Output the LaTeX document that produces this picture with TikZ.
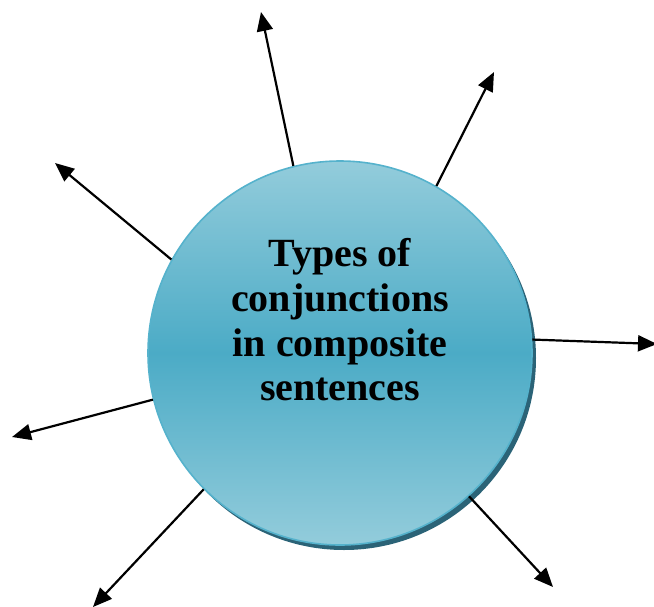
\documentclass[tikz,border=0pt]{standalone}
\usepackage{fontspec}
\setmainfont{Liberation Serif}
\usetikzlibrary{arrows.meta}
\definecolor{tealmid}{HTML}{4BABC6}
\definecolor{teallight}{HTML}{93CCDB}
\definecolor{tealedge}{HTML}{55B2CC}
\definecolor{tealshadow}{HTML}{2B6377}
\tikzset{
    arr/.style={line width=2.2pt,-{Triangle[length=19pt,width=16pt]}},
    bubble/.style={circle,minimum size=384pt,inner sep=0pt,draw=tealedge,line width=1.6pt,
        top color=teallight,bottom color=teallight,middle color=tealmid}
}
\begin{document}
\begin{tikzpicture}[x=1pt,y=-1pt]
        \useasboundingbox (0,0) rectangle (654,606);
        \fill[tealshadow] (344,358) circle (192pt);
        \node[bubble] (circ) at (340,353) {};
        \node[font=\fontsize{40}{44.7}\selectfont\bfseries,align=center] (title) at (340,320)
            {Types of\\conjunctions\\in composite\\sentences};
        \foreach \ang/\tx/\ty [count=\k] in {104/261/12,60/494/72,151/55/163,4/657/344,194/12/437,225/93/607,312/553/587}{
            \coordinate (tip\k) at (\tx,\ty);
            \draw[arr] (circ.\ang) -- (tip\k);
        }
    \end{tikzpicture}
\end{document}
